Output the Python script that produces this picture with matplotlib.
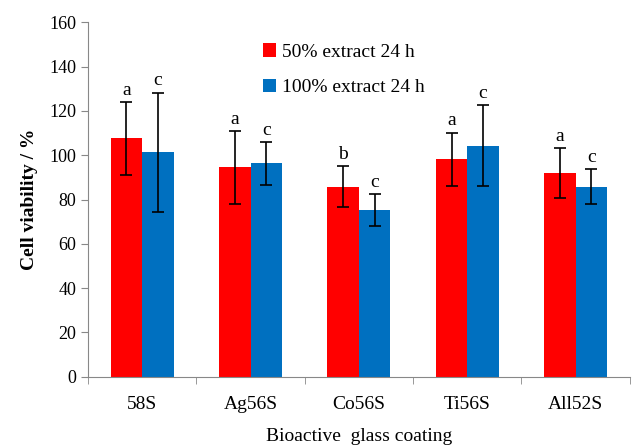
import numpy as np
import matplotlib.pyplot as plt

# data
groups = ['58S', 'Ag56S', 'Co56S', 'Ti56S', 'All52S']
val_50 = [107.6, 94.5, 85.8, 98.1, 91.8]
err_50 = [16.3, 16.5, 9.2, 12.1, 11.3]
val_100 = [101.3, 96.3, 75.3, 104.3, 85.8]
err_100 = [27.0, 9.6, 7.2, 18.2, 7.8]
let_50 = ['a', 'a', 'b', 'a', 'a']
let_100 = ['c', 'c', 'c', 'c', 'c']

plt.rcParams['font.family'] = 'Liberation Serif'

fig = plt.figure(figsize=(6.33, 4.48), dpi=100)
ax = fig.add_axes([0.139, 0.159, 0.856, 0.791])

x = np.arange(len(groups))
w = 0.29
ax.bar(x - w / 2, val_50, w, color='#ff0000', label='50% extract 24 h')
ax.bar(x + w / 2, val_100, w, color='#0070c0', label='100% extract 24 h')
ax.errorbar(x - w / 2, val_50, yerr=err_50, fmt='none', ecolor='black',
            elinewidth=1.2, capsize=4, capthick=1.2)
ax.errorbar(x + w / 2, val_100, yerr=err_100, fmt='none', ecolor='black',
            elinewidth=1.2, capsize=4, capthick=1.2)

for i in range(len(groups)):
    ax.text(x[i] - w / 2, val_50[i] + err_50[i] + 1.5, let_50[i],
            ha='center', va='bottom', fontsize=14)
    ax.text(x[i] + w / 2, val_100[i] + err_100[i] + 1.5, let_100[i],
            ha='center', va='bottom', fontsize=14)

ax.set_xlim(-0.5, len(groups) - 0.5)
ax.set_ylim(0, 160)
ax.set_yticks(np.arange(0, 161, 20))
ax.set_xticks(x)
ax.set_xticklabels(groups, fontsize=14)
ax.set_xticks(np.arange(-0.5, len(groups), 1), minor=True)
ax.tick_params(axis='x', which='major', length=0, pad=14)
ax.tick_params(axis='x', which='minor', length=5, color='#888888', direction='out')
ax.tick_params(axis='y', labelsize=13, length=5, color='#888888', direction='out')

for s in ['top', 'right']:
    ax.spines[s].set_visible(False)
for s in ['left', 'bottom']:
    ax.spines[s].set_color('#888888')

ax.set_ylabel('Cell viability / %', fontsize=14, fontweight='bold', labelpad=8)
ax.set_xlabel('Bioactive  glass coating', fontsize=14, labelpad=11)

ax.legend(loc='upper left', bbox_to_anchor=(0.29, 0.99), frameon=False,
          fontsize=14, handlelength=0.7, handleheight=0.7, handletextpad=0.3,
          labelspacing=0.9)

fig.savefig('out.png', dpi=100)
plt.close(fig)
